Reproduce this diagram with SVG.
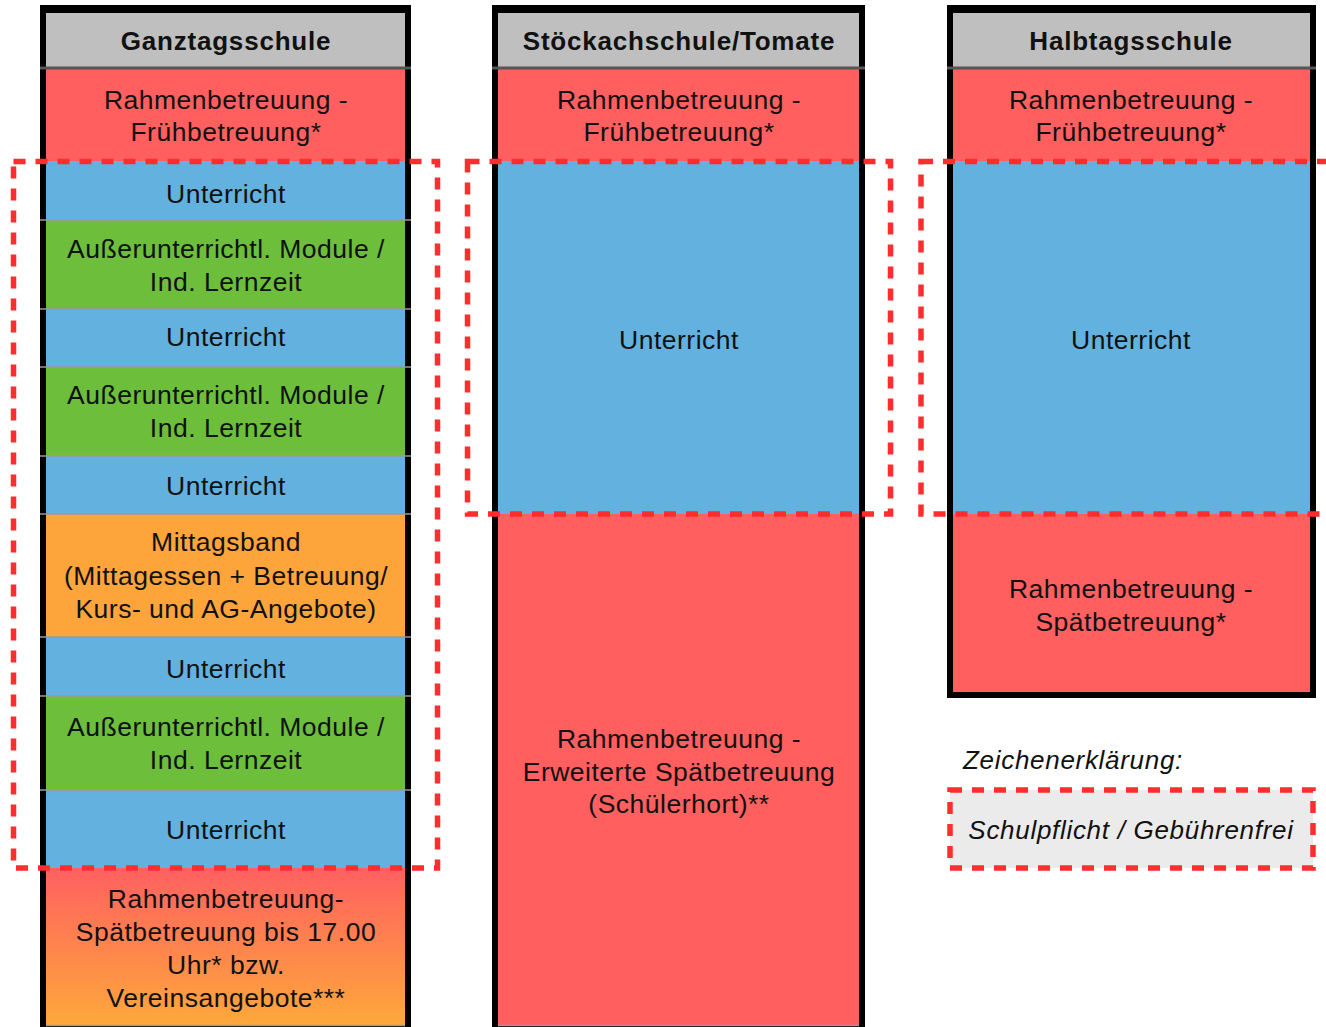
<svg xmlns="http://www.w3.org/2000/svg" width="1326" height="1027" viewBox="0 0 1326 1027">
<style>
.t{font-family:"Liberation Sans",Arial,sans-serif;font-size:26.5px;fill:#111;text-anchor:middle;letter-spacing:0.5px}
.h{font-family:"Liberation Sans",Arial,sans-serif;font-size:26px;font-weight:bold;fill:#111;text-anchor:middle;letter-spacing:0.8px}
.i{font-family:"Liberation Sans",Arial,sans-serif;font-size:26px;font-style:italic;fill:#111;letter-spacing:0.7px}
.red{fill:#ff5f5f}.blue{fill:#63b1df}.green{fill:#6cbe3b}.orange{fill:#fda53b}.gray{fill:#bfbfbf}
.sep{stroke:#9a9a9a;stroke-width:1.5}
.hsep{stroke:#555;stroke-width:3}
.dash{fill:none;stroke:#ff2d2d;stroke-width:5.5;stroke-dasharray:12 10}
</style>
<defs>
<linearGradient id="gr" x1="0" y1="0" x2="0" y2="1">
<stop offset="0" stop-color="#ff6060"/>
<stop offset="1" stop-color="#fda83a"/>
</linearGradient>
</defs>
<rect width="1326" height="1027" fill="#fff"/>

<g id="ganztagsschule">
<rect x="40" y="5" width="371" height="1022" fill="#000"/>
<rect x="46" y="13" width="359" height="56" class="gray"/>
<rect x="46" y="69" width="359" height="92" class="red"/>
<rect x="46" y="161" width="359" height="59" class="blue"/>
<rect x="46" y="220" width="359" height="89" class="green"/>
<rect x="46" y="309" width="359" height="58" class="blue"/>
<rect x="46" y="367" width="359" height="89" class="green"/>
<rect x="46" y="456" width="359" height="58" class="blue"/>
<rect x="46" y="514" width="359" height="123" class="orange"/>
<rect x="46" y="637" width="359" height="59" class="blue"/>
<rect x="46" y="696" width="359" height="94" class="green"/>
<rect x="46" y="790" width="359" height="78" class="blue"/>
<rect x="46" y="868" width="359" height="157" fill="url(#gr)"/>
<line x1="40" y1="68" x2="411" y2="68" class="hsep"/>
<line x1="40" y1="220" x2="411" y2="220" class="sep"/>
<line x1="40" y1="309" x2="411" y2="309" class="sep"/>
<line x1="40" y1="367" x2="411" y2="367" class="sep"/>
<line x1="40" y1="456" x2="411" y2="456" class="sep"/>
<line x1="40" y1="514" x2="411" y2="514" class="sep"/>
<line x1="40" y1="637" x2="411" y2="637" class="sep"/>
<line x1="40" y1="696" x2="411" y2="696" class="sep"/>
<line x1="40" y1="790" x2="411" y2="790" class="sep"/>
<line x1="46" y1="1025.5" x2="405" y2="1025.5" class="sep"/>
<text x="226" y="50" class="h">Ganztagsschule</text>
<text x="226" y="109" class="t">Rahmenbetreuung -</text>
<text x="226" y="141" class="t">Frühbetreuung*</text>
<text x="226" y="203" class="t">Unterricht</text>
<text x="226" y="258" class="t">Außerunterrichtl. Module /</text>
<text x="226" y="291" class="t">Ind. Lernzeit</text>
<text x="226" y="346" class="t">Unterricht</text>
<text x="226" y="404" class="t">Außerunterrichtl. Module /</text>
<text x="226" y="437" class="t">Ind. Lernzeit</text>
<text x="226" y="495" class="t">Unterricht</text>
<text x="226" y="551" class="t">Mittagsband</text>
<text x="226" y="585" class="t">(Mittagessen + Betreuung/</text>
<text x="226" y="618" class="t">Kurs- und AG-Angebote)</text>
<text x="226" y="678" class="t">Unterricht</text>
<text x="226" y="736" class="t">Außerunterrichtl. Module /</text>
<text x="226" y="769" class="t">Ind. Lernzeit</text>
<text x="226" y="839" class="t">Unterricht</text>
<text x="226" y="908" class="t">Rahmenbetreuung-</text>
<text x="226" y="941" class="t">Spätbetreuung bis 17.00</text>
<text x="226" y="974" class="t">Uhr* bzw.</text>
<text x="226" y="1007" class="t">Vereinsangebote***</text>
</g>

<g id="stoeckachschule">
<rect x="492" y="5" width="373" height="1022" fill="#000"/>
<rect x="498" y="13" width="361" height="56" class="gray"/>
<rect x="498" y="69" width="361" height="92" class="red"/>
<rect x="498" y="161" width="361" height="353" class="blue"/>
<rect x="498" y="514" width="361" height="511" class="red"/>
<line x1="492" y1="68" x2="865" y2="68" class="hsep"/>
<line x1="498" y1="1025.5" x2="859" y2="1025.5" class="sep"/>
<text x="679" y="50" class="h">Stöckachschule/Tomate</text>
<text x="679" y="109" class="t">Rahmenbetreuung -</text>
<text x="679" y="141" class="t">Frühbetreuung*</text>
<text x="679" y="349" class="t">Unterricht</text>
<text x="679" y="748" class="t">Rahmenbetreuung -</text>
<text x="679" y="781" class="t">Erweiterte Spätbetreuung</text>
<text x="679" y="813" class="t">(Schülerhort)**</text>
</g>

<g id="halbtagsschule">
<rect x="947" y="5" width="369" height="693" fill="#000"/>
<rect x="953" y="13" width="357" height="56" class="gray"/>
<rect x="953" y="69" width="357" height="92" class="red"/>
<rect x="953" y="161" width="357" height="353" class="blue"/>
<rect x="953" y="514" width="357" height="178" class="red"/>
<line x1="947" y1="68" x2="1316" y2="68" class="hsep"/>
<text x="1131" y="50" class="h">Halbtagsschule</text>
<text x="1131" y="109" class="t">Rahmenbetreuung -</text>
<text x="1131" y="141" class="t">Frühbetreuung*</text>
<text x="1131" y="349" class="t">Unterricht</text>
<text x="1131" y="598" class="t">Rahmenbetreuung -</text>
<text x="1131" y="631" class="t">Spätbetreuung*</text>
</g>

<g id="dashed-regions">
<rect x="13.5" y="161.5" width="424" height="706.5" class="dash"/>
<rect x="467.5" y="161.5" width="423" height="352.5" class="dash"/>
<rect x="921" y="161.5" width="430" height="352.5" class="dash"/>
</g>

<g id="legend">
<text x="963" y="769" class="i">Zeichenerklärung:</text>
<rect x="950" y="790" width="363" height="78" fill="#ebebeb"/>
<rect x="950" y="790" width="363" height="78" class="dash"/>
<text x="1131" y="839" class="i" text-anchor="middle">Schulpflicht / Gebührenfrei</text>
</g>
</svg>
